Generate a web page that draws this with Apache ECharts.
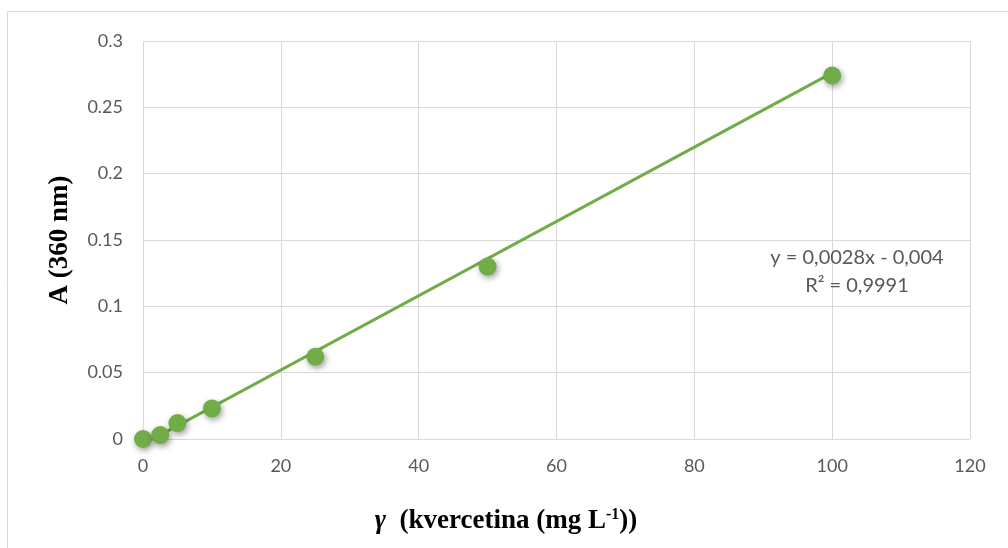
<!DOCTYPE html>
<html><head><meta charset="utf-8">
<script src="https://cdn.jsdelivr.net/npm/echarts@6/dist/echarts.min.js"></script>
<style>html,body{margin:0;padding:0;background:#fff}#c{width:1008px;height:548px}</style>
</head><body><div id="c"></div>
<script>
const xValues = [0, 2.5, 5, 10, 25, 50, 100];
const yValues = [0, 0.003, 0.012, 0.023, 0.062, 0.130, 0.274];
const slope = 0.0028, intercept = -0.004;
const trendX = [0, 100];
const eqText = ['y = 0,0028x - 0,004', 'R² = 0,9991'];
const xTitle = '{i|γ}  (kvercetina (mg L{sup|-1}))';
const yTitle = 'A (360 nm)';

const chart = echarts.init(document.getElementById('c'));
const pts = xValues.map((x, i) => [x, yValues[i]]);
const trend = trendX.map(x => [x, slope * x + intercept]);
const serif = {fontFamily: 'Liberation Serif', fontWeight: 'bold', fontSize: 27, fill: '#000'};
chart.setOption({
  animation: false,
  graphic: [
    {type: 'rect', shape: {x: 7.5, y: 11.5, width: 1010, height: 560}, style: {fill: 'none', stroke: '#d9d9d9', lineWidth: 1}},
    {type: 'text', x: 506, y: 521, style: Object.assign({}, serif, {text: xTitle, align: 'center', verticalAlign: 'middle',
      rich: {i: {fontFamily: 'Liberation Serif', fontWeight: 'bold', fontStyle: 'italic', fontSize: 27, fill: '#000'},
             sup: {fontFamily: 'Liberation Serif', fontWeight: 'bold', fontSize: 16, fill: '#000', verticalAlign: 'bottom', padding: [0,0,13,0]}}})},
    {type: 'text', x: 60, y: 240, rotation: Math.PI / 2, style: Object.assign({}, serif, {text: yTitle, align: 'center', verticalAlign: 'middle'})}
  ],
  grid: {left: 143, right: 38, top: 41, bottom: 109},
  xAxis: {type: 'value', min: 0, max: 120, interval: 20,
    axisLine: {show: false}, axisTick: {show: false},
    axisLabel: {fontFamily: 'Lato', fontSize: 18, color: '#595959', margin: 18},
    splitLine: {lineStyle: {color: '#d9d9d9', width: 1}}},
  yAxis: {type: 'value', min: 0, max: 0.3, interval: 0.05,
    axisLine: {show: false}, axisTick: {show: false},
    axisLabel: {fontFamily: 'Lato', fontSize: 18, color: '#595959', margin: 20, formatter: v => String(+v.toFixed(2))},
    splitLine: {lineStyle: {color: '#d9d9d9', width: 1}}},
  series: [
    {type: 'line', data: trend, symbol: 'none', lineStyle: {color: '#70ad47', width: 3}, z: 2, silent: true},
    {type: 'scatter', data: pts, symbolSize: 18, z: 3,
      itemStyle: {color: '#70ad47', opacity: 1, shadowBlur: 6, shadowColor: 'rgba(0,0,0,0.4)', shadowOffsetX: 1.5, shadowOffsetY: 2.5}}
  ],
  title: {text: eqText.join('\n'), left: 852, top: 239, textAlign: 'center',
    textStyle: {fontFamily: 'Lato', fontWeight: 'normal', fontSize: 20, color: '#595959', lineHeight: 28, align: 'center'}}
});
</script></body></html>
